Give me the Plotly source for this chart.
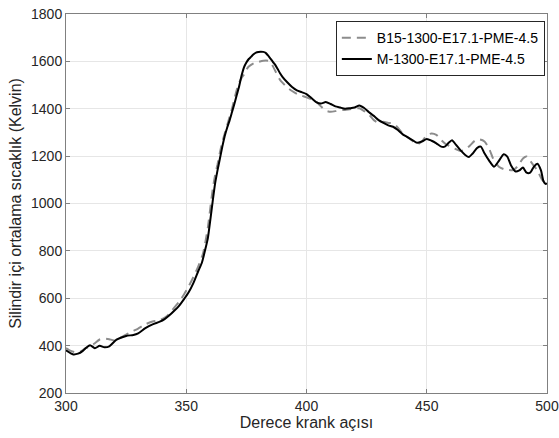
import plotly.graph_objects as go

# Crank angle (deg) and mean in-cylinder temperature (K)
b15_angle = [300, 302, 304, 306, 308, 310, 312, 314, 316, 318, 320, 323, 326, 328,
             330, 333, 336, 339, 342, 345, 347, 349, 351, 353, 355, 357, 358, 359,
             360, 361, 362, 363, 364, 365, 366, 367, 368, 369, 370, 371, 372, 373,
             374, 375, 376, 378, 380, 382, 384, 385, 386, 387, 388, 389, 390, 392,
             394, 396, 398, 400, 402, 404, 406, 408, 410, 412, 414, 416, 418, 420,
             422, 424, 426, 428, 430, 432, 434, 436, 438, 440, 442, 444, 446, 448,
             450, 452, 454, 456, 458, 460, 462, 464, 466, 468, 470, 472, 474, 476,
             478, 480, 482, 484, 486, 488, 490, 491.5, 493, 494.5, 496, 498, 500]
b15_temp = [390, 378, 372, 375, 388, 396, 410, 426, 430, 427, 422, 435, 452, 462,
            472, 490, 502, 507, 525, 560, 585, 615, 650, 690, 735, 790, 840, 900,
            980, 1060, 1120, 1165, 1215, 1260, 1295, 1330, 1365, 1400, 1440, 1480, 1510, 1530,
            1545, 1565, 1578, 1592, 1598, 1603, 1603, 1598, 1580, 1560, 1540, 1522, 1510, 1490,
            1475, 1463, 1455, 1448, 1440, 1430, 1410, 1392, 1387, 1390, 1395, 1395, 1398, 1400,
            1402, 1390, 1375, 1352, 1340, 1345, 1340, 1338, 1320, 1295, 1280, 1265, 1250, 1262,
            1288, 1296, 1290, 1268, 1250, 1240, 1230, 1222, 1228, 1245, 1265, 1270, 1262, 1230,
            1180, 1155, 1145, 1142, 1141, 1160, 1190, 1198, 1180, 1160, 1140, 1100, 1085]

m_angle = [300, 302, 303, 305, 307, 308.5, 310, 312, 314, 316, 318, 321, 325, 328,
           330, 333, 336, 339, 341, 343, 345, 347, 349, 351, 353, 355, 356.5, 358,
           359, 360, 361, 362, 363, 364, 365, 366, 367, 368, 369, 370, 371, 372,
           373, 374, 375, 376, 377, 378, 379, 380, 381, 382, 383, 384, 385, 386,
           387, 388, 389, 390, 392, 394, 396, 398, 400, 402, 404, 406, 408, 410,
           412, 414, 416, 418, 420, 422, 424, 426, 428, 430, 432, 434, 436, 438,
           440, 442, 444, 446, 448, 450, 452, 454, 456, 457.5, 459, 460.5, 462, 464,
           466, 467.5, 469, 471, 472.5, 474, 476, 478, 480, 482, 483.5, 485, 487, 488.5,
           490, 491.5, 493, 494.5, 496, 497.5, 498.5, 499.5, 500]
m_temp = [380, 367, 363, 366, 378, 392, 402, 389, 399, 393, 397, 425, 441, 445,
          452, 474, 490, 501, 512, 528, 547, 568, 595, 625, 665, 715, 750, 810,
          855, 930, 1010, 1085, 1140, 1190, 1240, 1285, 1320, 1350, 1385, 1420, 1458, 1495,
          1540, 1575, 1595, 1610, 1620, 1630, 1637, 1640, 1641, 1640, 1636, 1625, 1612, 1598,
          1585, 1568, 1550, 1535, 1512, 1492, 1478, 1470, 1462, 1445, 1428, 1422, 1428, 1420,
          1410, 1405, 1400, 1402, 1405, 1414, 1403, 1385, 1370, 1352, 1340, 1330, 1324, 1310,
          1292, 1280, 1268, 1256, 1262, 1272, 1265, 1254, 1240, 1240, 1255, 1267, 1250, 1225,
          1205, 1196, 1210, 1235, 1240, 1212, 1180, 1155, 1180, 1208, 1198, 1162, 1135, 1140,
          1152, 1130, 1130, 1155, 1168, 1140, 1095, 1082, 1085]

x_ticks = [300, 350, 400, 450, 500]
y_ticks = [200, 400, 600, 800, 1000, 1200, 1400, 1600, 1800]

FONT = "Liberation Sans, Arial, sans-serif"

fig = go.Figure()
fig.add_trace(go.Scatter(
    x=b15_angle, y=b15_temp, mode="lines", name="B15-1300-E17.1-PME-4.5",
    line=dict(color="#8c8c8c", width=2, dash="9px,6px", shape="spline", smoothing=0.6),
))
fig.add_trace(go.Scatter(
    x=m_angle, y=m_temp, mode="lines", name="M-1300-E17.1-PME-4.5",
    line=dict(color="#000000", width=2, shape="spline", smoothing=0.6),
))

axis_common = dict(
    showgrid=True, gridcolor="#e6e6e6", gridwidth=1,
    showline=True, linecolor="#808080", linewidth=1, mirror="ticks",
    ticks="inside", ticklen=4, tickcolor="#808080",
    tickfont=dict(family=FONT, size=14, color="#262626"),
    zeroline=False, automargin=False,
)

fig.update_xaxes(
    range=[300, 500], tickvals=x_ticks,
    title=dict(text="Derece krank açısı", standoff=3,
               font=dict(family=FONT, size=16, color="#262626")),
    **axis_common,
)
fig.update_yaxes(
    range=[200, 1800], tickvals=y_ticks,
    title=dict(text="Silindir içi ortalama sıcaklık (Kelvin)", standoff=5,
               font=dict(family=FONT, size=16, color="#262626")),
    **axis_common,
)

fig.update_layout(
    width=559, height=438,
    margin=dict(l=66, r=12, t=14, b=45),
    plot_bgcolor="white", paper_bgcolor="white",
    showlegend=True,
    legend=dict(
        x=0.561, y=0.981, xanchor="left", yanchor="top",
        bgcolor="white", bordercolor="#262626", borderwidth=1,
        font=dict(family=FONT, size=14, color="#000000"),
        tracegroupgap=0, itemwidth=30,
    ),
)

fig.write_html("out.html")
